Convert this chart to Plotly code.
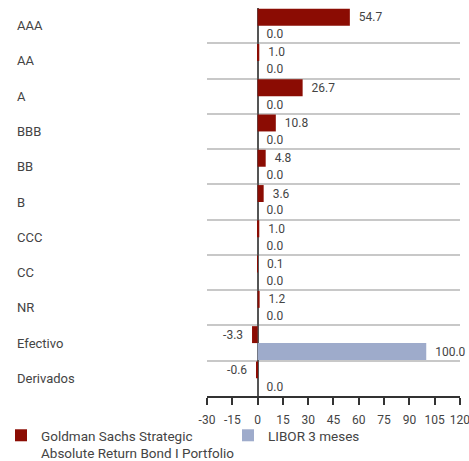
import plotly.graph_objects as go

categories = ["AAA", "AA", "A", "BBB", "BB", "B", "CCC", "CC", "NR", "Efectivo", "Derivados"]
gs_values = [54.7, 1.0, 26.7, 10.8, 4.8, 3.6, 1.0, 0.1, 1.2, -3.3, -0.6]
libor_values = [0.0, 0.0, 0.0, 0.0, 0.0, 0.0, 0.0, 0.0, 0.0, 100.0, 0.0]
series_names = ["Goldman Sachs Strategic<br>Absolute Return Bond I Portfolio", "LIBOR 3 meses"]
x_ticks = [-30, -15, 0, 15, 30, 45, 60, 75, 90, 105, 120]
x_tick_labels = ["-30", "-15", "0", "15", "30", "45", "60", "75", "90", "105", "120"]

RED = "#8b0c03"
BLUE = "#9eabcb"
TXT = "#444444"
FONT = "Roboto, sans-serif"
PAD = "\u00a0\u00a0"

L, R, T, B = 207, 9, 8, 65
PW = 469 - L - R
PH = 461 - T - B


def labels(vals):
    return [(PAD + f"{v:.1f}") if v >= 0 else (f"{v:.1f}" + PAD) for v in vals]


fig = go.Figure()
fig.add_trace(go.Bar(
    y=categories, x=gs_values, orientation="h", name=series_names[0],
    marker=dict(color=RED, line=dict(width=0)), legend="legend",
    text=labels(gs_values), textposition="outside", cliponaxis=False,
    textfont=dict(size=12, color=TXT, family=FONT),
))
fig.add_trace(go.Bar(
    y=categories, x=libor_values, orientation="h", name=series_names[1],
    marker=dict(color=BLUE, line=dict(width=0)), legend="legend2",
    text=labels(libor_values), textposition="outside", cliponaxis=False,
    textfont=dict(size=12, color=TXT, family=FONT),
))

for c in categories:
    fig.add_annotation(x=(15 - L) / PW, xref="paper", y=c, yref="y", text=c, showarrow=False,
                       xanchor="left", yanchor="middle",
                       font=dict(size=13, color=TXT, family=FONT))

leg_common = dict(orientation="h", xanchor="left", yanchor="top", y=-(24 / PH), valign="top",
                  font=dict(size=13.5, color=TXT, family=FONT), itemwidth=30,
                  bgcolor="rgba(0,0,0,0)")

fig.update_layout(
    width=469, height=461,
    margin=dict(l=L, r=R, t=T, b=B, autoexpand=False),
    barmode="group", bargap=0.04, bargroupgap=0.0,
    plot_bgcolor="white", paper_bgcolor="white",
    font=dict(family=FONT, color=TXT, size=12),
    showlegend=True,
    legend=dict(x=(1 - L) / PW, **leg_common),
    legend2=dict(x=(228 - L) / PW, **leg_common),
    xaxis=dict(range=[-30, 120.01], tickvals=x_ticks, ticktext=x_tick_labels,
               ticks="outside", ticklen=7, tickwidth=1.5,
               tickcolor="#333333", showline=True, linecolor="#333333", linewidth=1.5,
               showgrid=False, zeroline=True, zerolinecolor="#555555", zerolinewidth=2,
               ticklabeloverflow="allow", ticklabelstandoff=5,
               tickfont=dict(size=12, color=TXT, family=FONT), fixedrange=True),
    yaxis=dict(autorange="reversed", type="category", tickson="boundaries", showgrid=True,
               gridcolor="#c8c8c8", gridwidth=1.5, showticklabels=False, ticks="",
               showline=False, zeroline=False),
)

fig.write_html("out.html")
